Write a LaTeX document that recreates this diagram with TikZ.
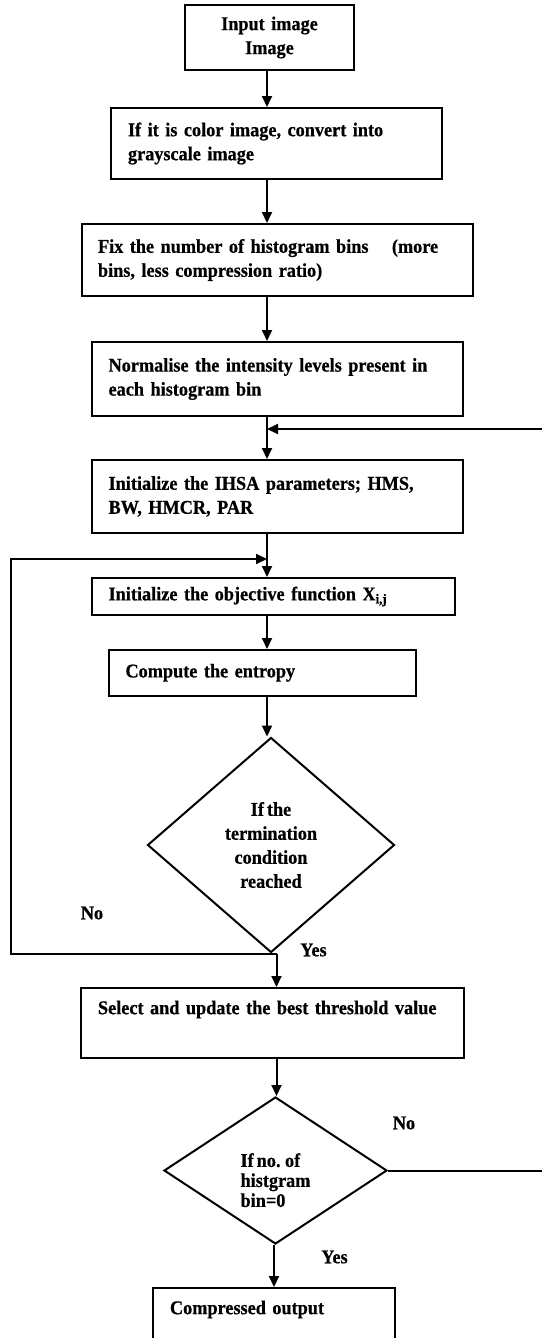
\documentclass[tikz,border=0pt]{standalone}
\usepackage{fontspec}
\setmainfont{Liberation Serif}[BoldFeatures={FakeBold=0.6, FakeStretch=0.935}]
\usetikzlibrary{shapes.geometric,arrows.meta}
\protected\def\myfnt{\fontsize{19.5}{24}\selectfont\bfseries\fontdimen2\font=3pt\fontdimen3\font=1pt\fontdimen4\font=1pt\relax}
\protected\def\myfntb{\fontsize{19.5}{20}\selectfont\bfseries\fontdimen2\font=3pt\fontdimen3\font=1pt\fontdimen4\font=1pt\relax}
\begin{document}
\begin{tikzpicture}[x=1pt,y=1pt,
  font=\myfnt,
  box/.style={draw, line width=2pt, rectangle, inner ysep=0pt, inner xsep=17pt, align=left},
  dia/.style={draw, diamond, line width=2pt, inner sep=0pt, align=center},
  arr/.style={line width=2pt, -{Triangle[length=11pt,width=10pt]}},
  ln/.style={line width=2pt},
  lbl/.style={inner sep=0pt}]
\useasboundingbox (0,0) rectangle (542,-1338);
\clip (0,0) rectangle (542,-1338);

\node[box, align=center, text width=135pt, minimum height=65pt] (b1) at (269.5,-37.5) {\mbox{Input image}\\\mbox{Image}};
\node[box, text width=297pt, minimum height=71pt] (b2) at (276.5,-143.5) {\mbox{If it is color image, convert into}\\\mbox{grayscale image}};
\node[box, inner xsep=16pt, text width=359pt, minimum height=72pt] (b3) at (277.5,-260) {\mbox{Fix the number of histogram bins\hspace{1.2em}(more}\\\mbox{bins, less compression ratio)}};
\node[box, text width=337.4pt, minimum height=74pt] (b4) at (277.3,-379) {\mbox{Normalise the intensity levels present in}\\\mbox{each histogram bin}};
\node[box, text width=337.4pt, minimum height=73pt] (b5) at (277.3,-496.5) {\mbox{Initialize the IHSA parameters; HMS,}\\\mbox{BW, HMCR, PAR}};
\node[box, text width=329.4pt, minimum height=37pt] (b6) at (273.3,-596.5) {\mbox{Initialize the objective function X\textsubscript{i,j}}};
\node[box, text width=273.5pt, minimum height=45.5pt] (b7) at (262.25,-672.75) {\mbox{Compute the entropy}};
\node[dia, minimum width=247pt, minimum height=215pt] (d1) at (271,-845) {If the\\termination\\condition\\reached};
\node[box, text width=349pt, minimum height=70pt] (b8) at (272.5,-1023) {\mbox{Select and update the best threshold value}\\\strut};
\node[dia, align=left, minimum width=223pt, minimum height=147pt, font=\myfntb] (d2) at (275.5,-1170.5) {\rule{0pt}{33pt}If no. of\\histgram\\bin=0};
\node[box, text width=208pt, minimum height=70pt] (b9) at (274,-1323) {\mbox{Compressed output}\\\strut};

\node[lbl] (no1) at (92,-913) {No};
\node[lbl] (yes1) at (313.5,-950) {Yes};
\node[lbl] (no2) at (404,-1123) {No};
\node[lbl] (yes2) at (334.5,-1257) {Yes};

\coordinate (sp) at (267,0);
\coordinate (sp2) at (276.5,0);
\coordinate (sp3) at (274,0);
\coordinate (j1) at (267,-429);
\coordinate (fr1) at (542,-429);
\coordinate (fr2) at (542,-1170.5);
\coordinate (j2) at (267,-559);
\coordinate (lx) at (11.4,-559);

\draw[arr] (b1.south -| sp) -- (b2.north -| sp);
\draw[arr] (b2.south -| sp) -- (b3.north -| sp);
\draw[arr] (b3.south -| sp) -- (b4.north -| sp);
\draw[arr] (b4.south -| sp) -- (b5.north -| sp);
\draw[arr] (b5.south -| sp) -- (b6.north -| sp);
\draw[arr] (b6.south -| sp) -- (b7.north -| sp);
\draw[arr] (b7.south -| sp) -- (sp |- d1.north);
\draw[arr] (d1.south -| sp2) -- (b8.north -| sp2);
\draw[arr] (d1.south -| sp2) -| (lx) -- (j2);
\draw[arr] (b8.south -| sp2) -- (d2.north -| sp2);
\draw[arr] (d2.south -| sp3) -- (b9.north -| sp3);
\draw[arr] (fr1) -- (j1);
\draw[ln] (d2.east) -- (fr2);
\end{tikzpicture}
\end{document}
